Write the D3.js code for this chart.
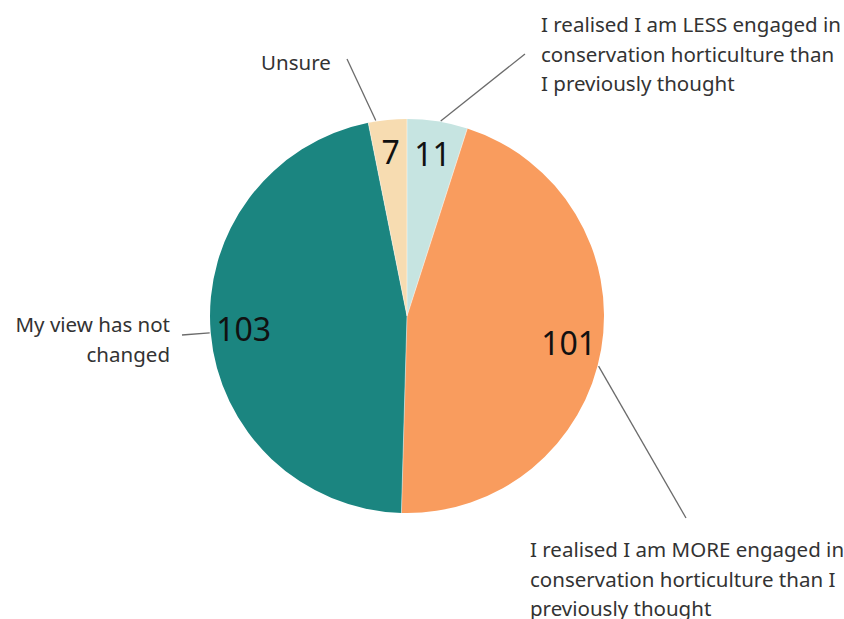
<!DOCTYPE html>
<html>
<head>
<meta charset="utf-8">
<script src="https://cdn.jsdelivr.net/npm/d3@7"></script>
<style>
  html, body { margin: 0; padding: 0; background: #fff; }
  svg { display: block; }
  text { font-family: "Noto Sans", "Open Sans", sans-serif; }
</style>
</head>
<body>
<svg id="chart" width="844" height="619"></svg>
<script>
// Survey answers, clockwise from 12 o'clock
const categories = [
  "I realised I am LESS engaged in conservation horticulture than I previously thought",
  "I realised I am MORE engaged in conservation horticulture than I previously thought",
  "My view has not changed",
  "Unsure"
];
const counts = [11, 101, 103, 7];
const colors = ["#c6e4e1", "#f99c5e", "#1b8580", "#f7dcb1"];

// Wrapped label lines for each category
const labelLines = [
  ["I realised I am LESS engaged in", "conservation horticulture than", "I previously thought"],
  ["I realised I am MORE engaged in", "conservation horticulture than I", "previously thought"],
  ["My view has not", "changed"],
  ["Unsure"]
];

const W = 844, H = 619;
const cx = 407, cy = 316, R = 197;

const svg = d3.select("#chart");
const g = svg.append("g").attr("transform", `translate(${cx},${cy})`);

const data = categories.map((c, i) => ({ category: c, count: counts[i], color: colors[i], lines: labelLines[i] }));

const pie = d3.pie().value(d => d.count).sort(null);
const arcs = pie(data);

const arc = d3.arc().innerRadius(0).outerRadius(R);
const valueArc = d3.arc().innerRadius(164).outerRadius(164);

g.selectAll("path.slice")
  .data(arcs)
  .join("path")
  .attr("class", "slice")
  .attr("d", arc)
  .attr("fill", d => d.data.color);

// Slice boundaries drawn as thin white separators
g.selectAll("line.sep")
  .data(arcs)
  .join("line")
  .attr("class", "sep")
  .attr("x1", 0).attr("y1", 0)
  .attr("x2", d => R * Math.sin(d.startAngle))
  .attr("y2", d => -R * Math.cos(d.startAngle))
  .attr("stroke", "#fff")
  .attr("stroke-width", 0.8)
  .attr("stroke-opacity", 0.6);

// Count labels inside the pie
g.selectAll("text.value")
  .data(arcs)
  .join("text")
  .attr("class", "value")
  .attr("transform", d => {
    const [x, y] = valueArc.centroid(d);
    return `translate(${x},${y})`;
  })
  .attr("text-anchor", "middle")
  .attr("dy", "0.36em")
  .attr("font-size", 32)
  .attr("fill", "#111")
  .text(d => d.data.count);

// Annotation placement: where each leader leaves the pie and where its text sits
const annot = [
  { angle: 0.55, lineEnd: [525, 54], textX: 541, textY: 25, anchor: "start" },
  { angle: 0.53, lineEnd: [686, 518], textX: 530, textY: 550, anchor: "start" },
  { angle: 0.50, lineEnd: [182, 335], textX: 170, textY: 325, anchor: "end" },
  { angle: 0.20, lineEnd: [347, 59], textX: 296, textY: 63, anchor: "middle" }
];

const lineH = 29.5;
const ag = svg.append("g");

arcs.forEach((d, i) => {
  const a = annot[i];
  const t = d.startAngle + (d.endAngle - d.startAngle) * a.angle;
  const sx = cx + (R + 1) * Math.sin(t);
  const sy = cy - (R + 1) * Math.cos(t);
  ag.append("line")
    .attr("x1", sx).attr("y1", sy)
    .attr("x2", a.lineEnd[0]).attr("y2", a.lineEnd[1])
    .attr("stroke", "#6b6b6b")
    .attr("stroke-width", 1.3);

  const txt = ag.append("text")
    .attr("font-size", 20.5)
    .attr("fill", "#333")
    .attr("text-anchor", a.anchor);
  d.data.lines.forEach((ln, k) => {
    txt.append("tspan")
      .attr("x", a.textX)
      .attr("y", a.textY + k * lineH)
      .attr("dy", "0.35em")
      .text(ln);
  });
});
</script>
</body>
</html>
